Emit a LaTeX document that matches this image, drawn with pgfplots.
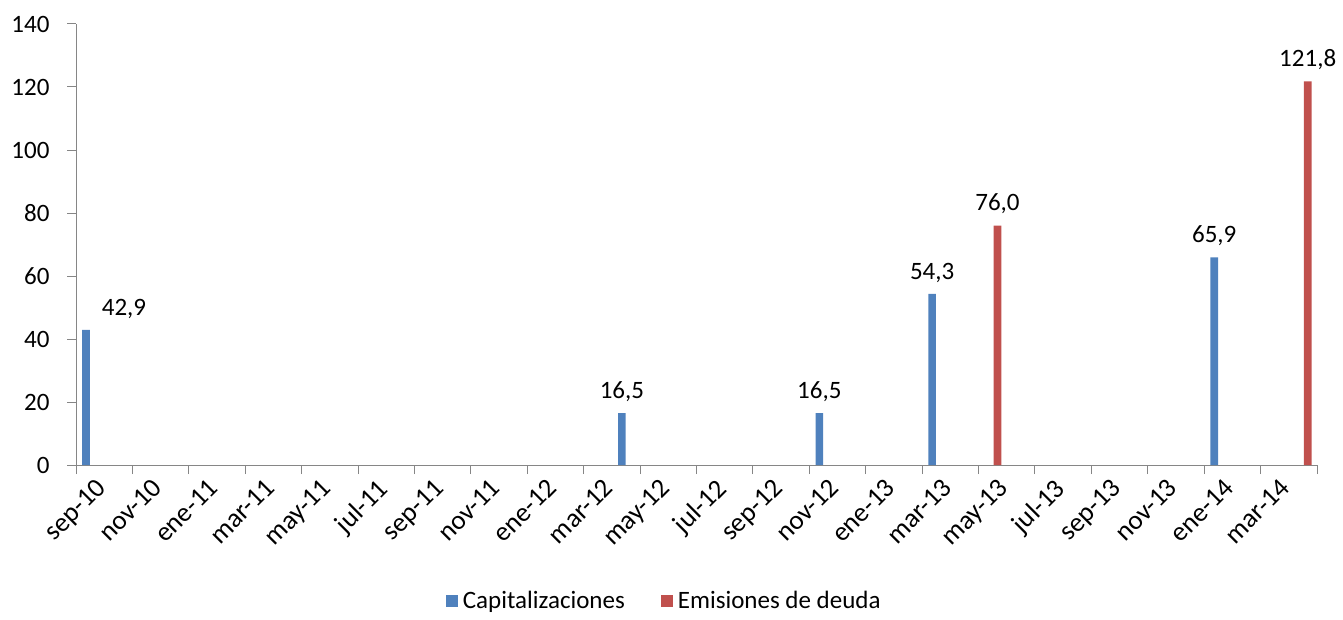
\documentclass[border=0pt]{standalone}
\usepackage{pgfplots}
\usepackage{pgfplotstable}
\pgfplotsset{compat=1.18}
\usepackage{fontspec}
\setmainfont{Carlito}
\definecolor{capblue}{HTML}{4F81BD}
\definecolor{emired}{HTML}{C0504D}
\definecolor{axgray}{HTML}{868686}

% month index: 0 = sep-10, 43 = apr-14
\pgfplotstableread{
m v dx
0 42.9 38
19 16.5 0
26 16.5 0
30 54.3 0
40 65.9 0
}\capdata
\pgfplotstableread{
m v dx
32 76.0 0
43 121.8 0
}\emidata

\begin{document}
\begin{tikzpicture}[font=\fontsize{25bp}{30bp}\selectfont]
\begin{axis}[
  scale only axis, width=1241bp, height=441bp,
  xmin=0, xmax=44, ymin=0, ymax=140,
  axis x line*=bottom, axis y line*=left,
  axis line style={axgray, line width=1bp},
  ytick={0,20,...,140},
  xtick={0,2,...,44},
  xticklabels={sep-10,nov-10,ene-11,mar-11,may-11,jul-11,sep-11,nov-11,ene-12,mar-12,may-12,jul-12,sep-12,nov-12,ene-13,mar-13,may-13,jul-13,sep-13,nov-13,ene-14,mar-14,{}},
  tick align=outside, major tick length=9bp,
  tick style={axgray, line width=1bp},
  xticklabel style={rotate=45, anchor=north east, font=\fontsize{27bp}{30bp}\selectfont, xshift=13bp, yshift=-13bp, inner sep=2bp},
  yticklabel style={xshift=-14bp},
  /pgf/number format/assume math mode=true,
  ybar, bar width=0.27,
  nodes near coords={\pgfmathprintnumber[fixed,fixed zerofill,precision=1,use comma]{\pgfplotspointmeta}},
  visualization depends on={\thisrow{dx} \as \dx},
  every node near coord/.append style={font=\fontsize{25bp}{30bp}\selectfont, text=black, anchor=south, yshift=8bp, xshift=\dx*1bp},
  legend style={at={(0.474,-0.308)}, anchor=center, draw=none, legend columns=2,
    /tikz/every even column/.append style={column sep=34bp}, font=\fontsize{25bp}{30bp}\selectfont},
]
\addplot[fill=capblue, draw=none, bar shift=0.355,
  legend image code/.code={\fill[capblue] (0bp,-6bp) rectangle (12bp,6bp); \path (15bp,0bp);}]
  table[x=m, y=v] {\capdata};
\addlegendentry{Capitalizaciones}
\addplot[fill=emired, draw=none, bar shift=0.67,
  legend image code/.code={\fill[emired] (0bp,-6bp) rectangle (12bp,6bp); \path (15bp,0bp);}]
  table[x=m, y=v] {\emidata};
\addlegendentry{Emisiones de deuda}
\end{axis}
\pgfresetboundingbox
\path[use as bounding box] ([xshift=-76bp,yshift=-154bp]current axis.south west) rectangle ([xshift=26bp,yshift=24bp]current axis.north east);
\end{tikzpicture}
\end{document}
